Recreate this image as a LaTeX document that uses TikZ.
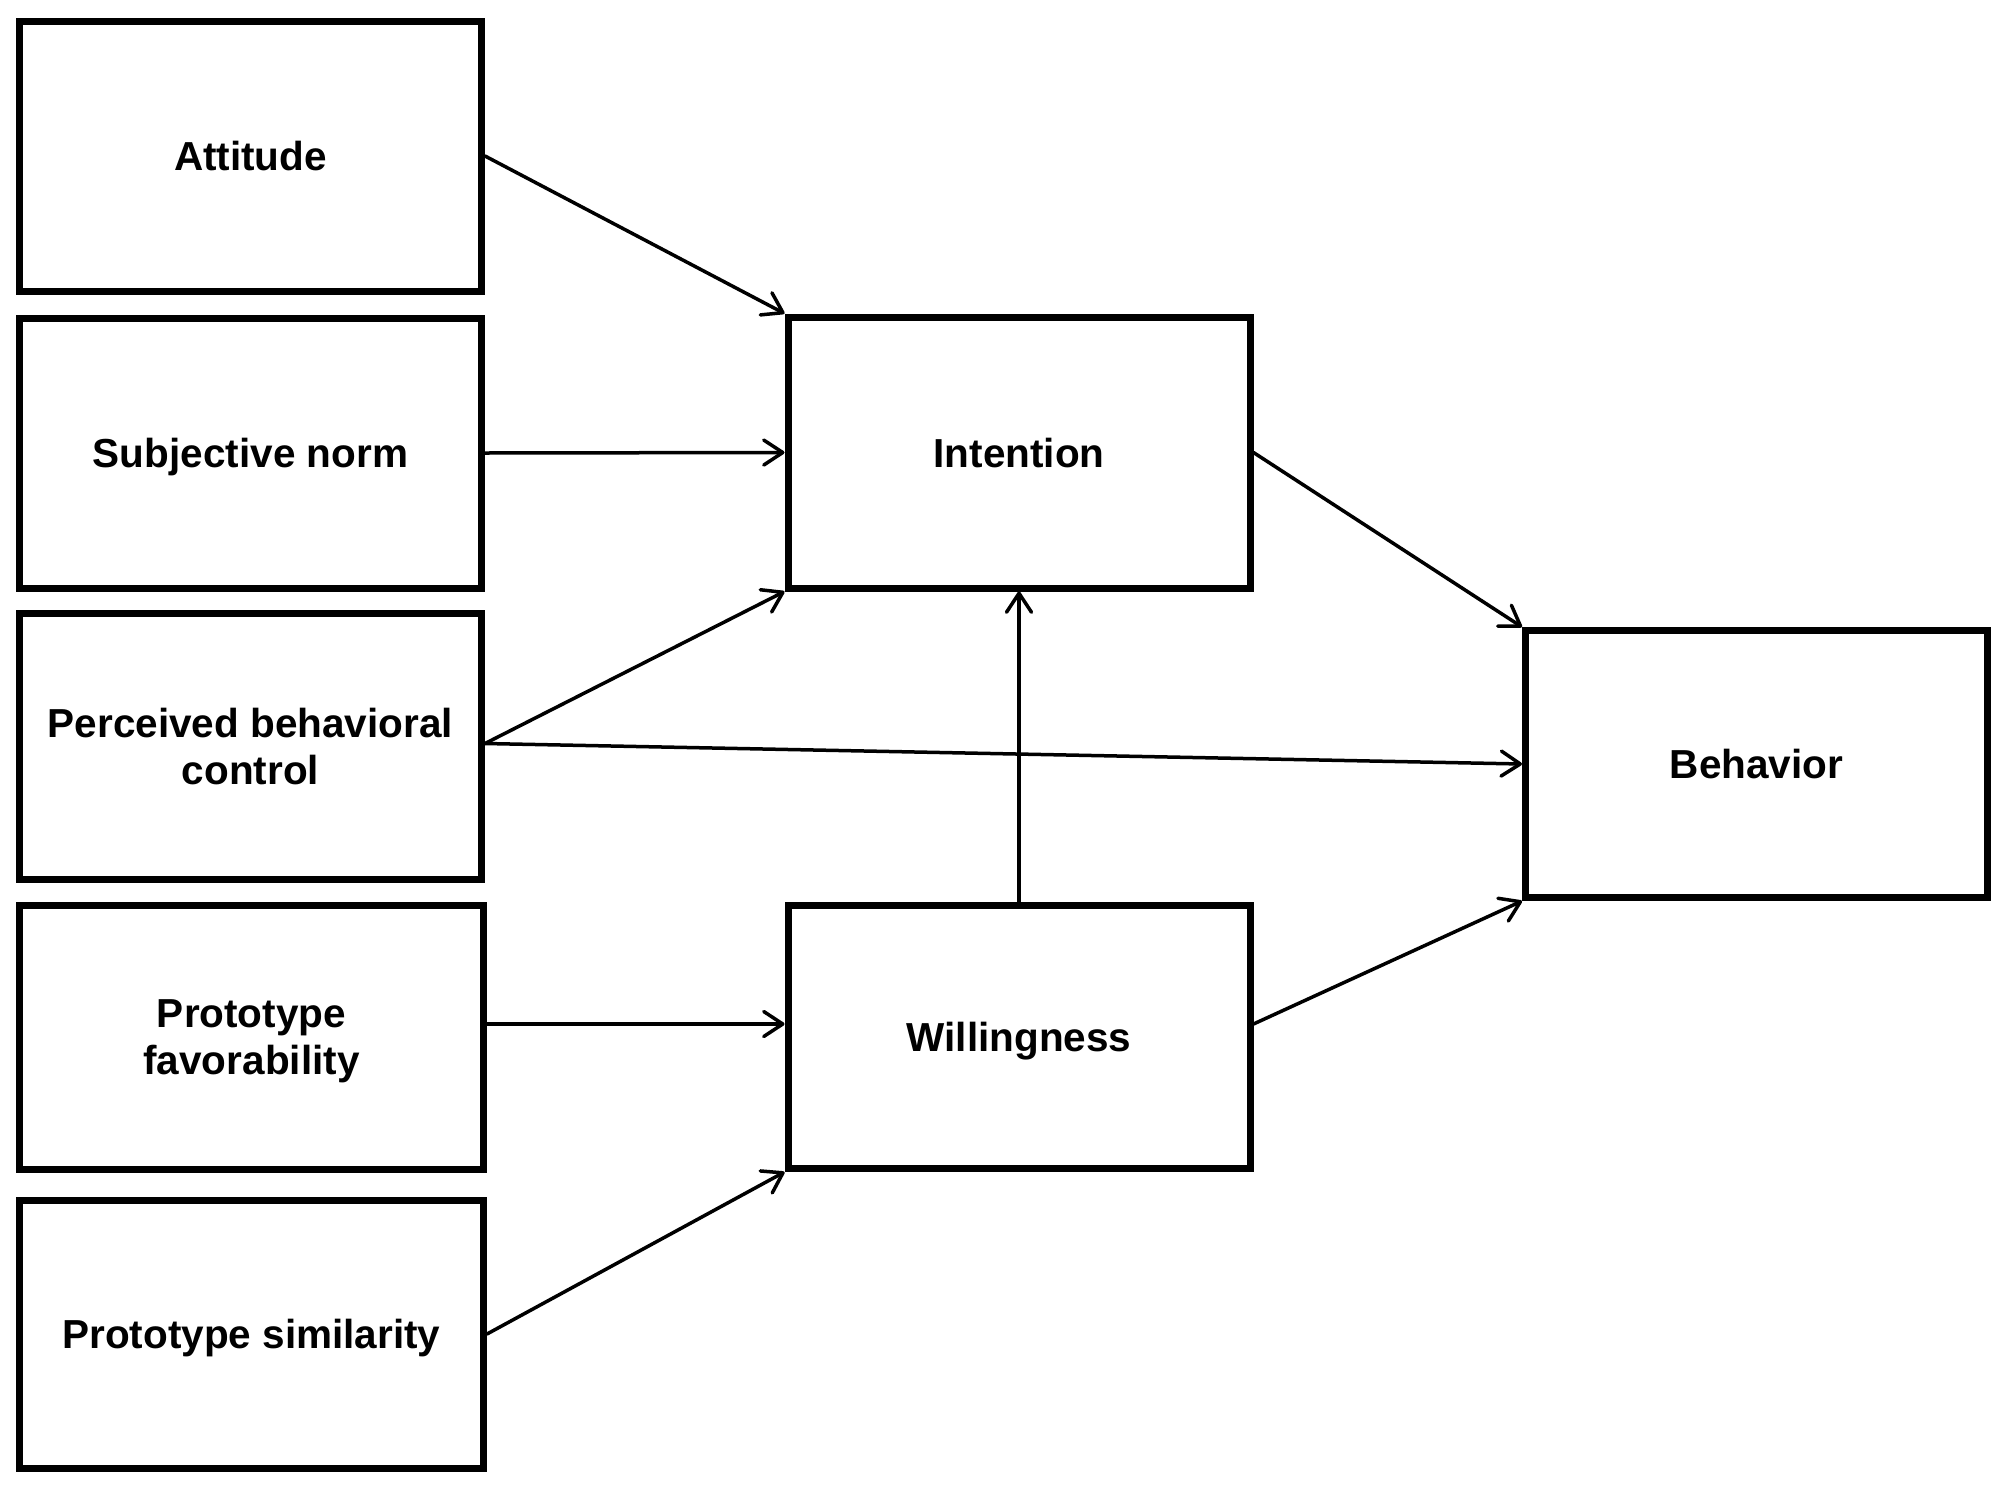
\documentclass[tikz,border=0pt]{standalone}
\usepackage{fontspec}
\setmainfont{Liberation Sans}
\usetikzlibrary{arrows.meta}
\begin{document}
\begin{tikzpicture}[x=1pt,y=-1pt,
  box/.style={draw=black,line width=7pt,fill=white,rectangle,inner sep=0pt,
    align=center,text depth=0pt,font=\fontsize{40.5}{47.4}\selectfont\bfseries},
  arr/.style={line width=3.5pt,line cap=round,
    -{Straight Barb[length=19pt,width=25pt,line width=3.5pt,round]}}]
\useasboundingbox (0,0) rectangle (2008,1486);
\fill[white] (0,0) rectangle (2008,1486);
% left column
\node[box,minimum width=462pt,minimum height=270pt] (att) at (250.5,156) {Attitude};
\node[box,minimum width=462pt,minimum height=270pt] (sn) at (250.5,453) {Subjective norm};
\node[box,minimum width=462pt,minimum height=266pt] (pbc) at (250.5,746.5) {Perceived behavioral\\control};
\node[box,minimum width=464pt,minimum height=264pt] (pf) at (251.5,1037) {Prototype\\favorability};
\node[box,minimum width=464pt,minimum height=268pt] (ps) at (251.5,1334) {Prototype similarity};
% middle column
\node[box,minimum width=462pt,minimum height=271pt] (int) at (1019,452.5) {Intention};
\node[box,minimum width=462pt,minimum height=263pt] (wil) at (1019,1037) {Willingness};
% right
\node[box,minimum width=462pt,minimum height=267pt] (beh) at (1756.5,764) {Behavior};
% connectors
\draw[arr] (att.east) -- (int.north west);
\draw[arr] (sn.east) -- (int.west);
\draw[arr] ([yshift=3pt]pbc.east) -- (int.south west);
\draw[arr] ([yshift=3pt]pbc.east) -- (beh.west);
\draw[arr] (int.east) -- (beh.north west);
\draw[arr] (wil.north) -- (int.south);
\draw[arr] ([yshift=13pt]pf.east) -- ([yshift=13pt]wil.west);
\draw[arr] (ps.east) -- (wil.south west);
\draw[arr] ([yshift=13pt]wil.east) -- (beh.south west);
\end{tikzpicture}
\end{document}
